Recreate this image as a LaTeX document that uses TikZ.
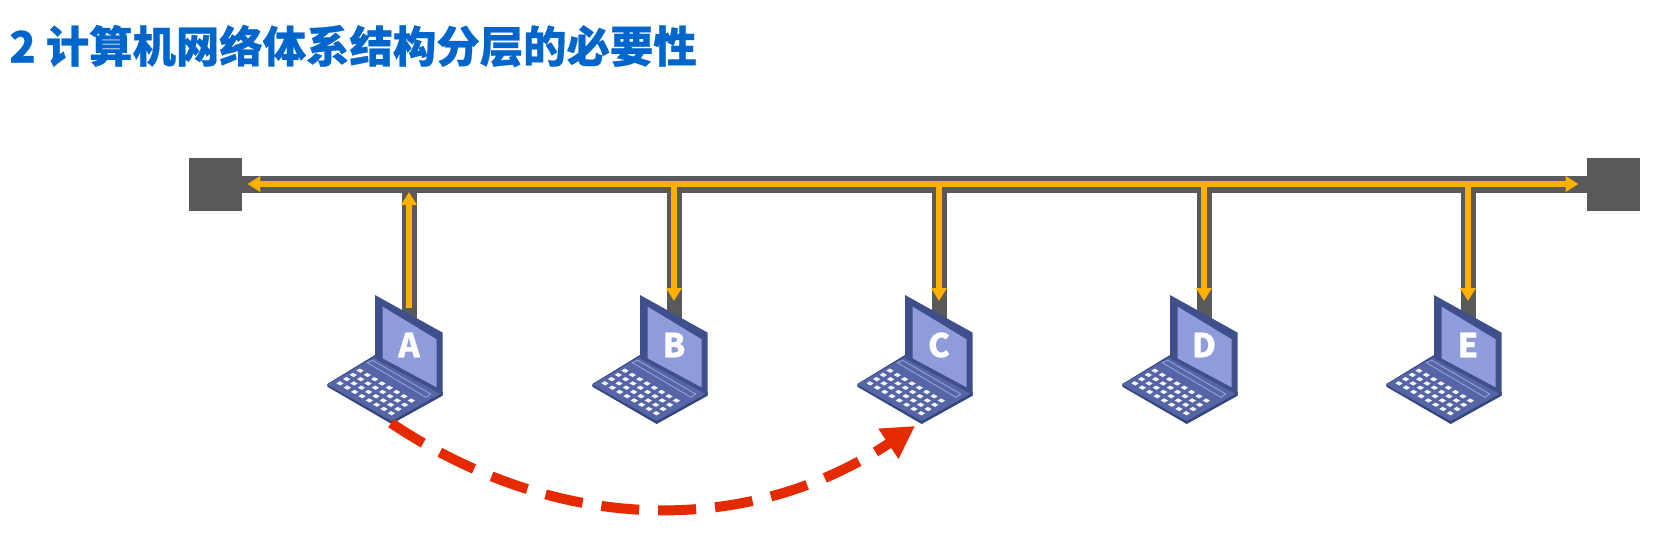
\documentclass[tikz,border=0pt]{standalone}
\usepackage{fontspec}
\setmainfont{Noto Sans CJK SC}[BoldFeatures={FakeBold=0.5}]
\usetikzlibrary{arrows.meta,backgrounds}
\definecolor{busgray}{HTML}{595959}
\definecolor{sigorange}{HTML}{FFB000}
\definecolor{titleblue}{HTML}{0066CC}
\definecolor{arcred}{HTML}{E62A00}
\definecolor{lapdark}{HTML}{34457F}
\definecolor{lapedge}{HTML}{3F4F8C}
\definecolor{lapscreen}{HTML}{8F9CDB}
\definecolor{lapbase}{HTML}{5565A5}
\tikzset{
  terminator/.style={fill=busgray,draw=none,minimum size=26.5pt,inner sep=0pt},
  busline/.style={draw=busgray,line width=8.5pt},
  stemline/.style={draw=busgray,line width=7.5pt},
  signal/.style={draw=sigorange,line width=3pt,-{Triangle[length=6.5pt,width=7.5pt]}},
  hostlabel/.style={text=white,font=\bfseries\fontsize{16.5}{18}\selectfont,inner sep=0pt},
  titletext/.style={text=titleblue,font=\bfseries\fontsize{21.7}{24}\selectfont,anchor=west,inner sep=0pt},
  jump/.style={draw=arcred,line width=5pt,dash pattern=on 19pt off 9.5pt,-{Triangle[length=16pt,width=17pt]}},
  laptop/.pic={
    \begin{scope}[x=0.16667pt,y=-0.16667pt,shift={(-297,-195)}]
      \fill[lapdark] (52,320) -- (245,432) -- (398,347) -- (398,335) -- (195,225) -- (52,312) -- cycle;
      \fill[lapbase] (52,314) -- (245,423) -- (398,338) -- (195,230) -- cycle;
      \fill[lapedge] (195,45) -- (398,158) -- (398,345) -- (380,335) -- (195,235) -- cycle;
      \fill[lapscreen] (218,80) -- (380,178) -- (380,322) -- (218,235) -- cycle;
      \draw[lapscreen,line width=0.5pt] (172,248) -- (188,241) -- (362,342) -- (348,352) -- cycle;
      \foreach \r in {0,...,3}
        \foreach \c in {0,...,7}
          \fill[white!90!lapscreen,shift={({150-20*\r+22*\c},{272+12.7*\r+12.8*\c})}]
            (-11,0) -- (-1,-6.5) -- (11,0) -- (1,6.5) -- cycle;
    \end{scope}
  }
}
\begin{document}
\begin{tikzpicture}[x=0.5pt,y=-0.5pt]
  \useasboundingbox (0,0) rectangle (1659,536);
  \begin{scope}[on background layer]
    \fill[white] (0,0) rectangle (1659,536);
  \end{scope}

  \node[titletext] (title) at (9,46) {2 计算机网络体系结构分层的必要性};

  \node[terminator] (termL) at (215.5,184) {};
  \node[terminator] (termR) at (1613.5,184) {};
  \coordinate (bus) at (915,184);

  \foreach \n/\x in {A/409,B/674,C/939,D/1204,E/1468}{
    \pic at (\x,345) {laptop};
    \node[hostlabel] (\n) at (\x,345) {\n};
  }

  \coordinate (Atail) at (409,308);
  \coordinate (Btip) at (674,301);
  \coordinate (Ctip) at (939,301);
  \coordinate (Dtip) at (1204,301);
  \coordinate (Etip) at (1468,301);
  \coordinate (Afoot) at (391,423);
  \coordinate (Cfoot) at (915,426);

  \begin{scope}[on background layer]
    \draw[busline] (termL.center) -- (termR.center);
    \foreach \n in {A,B,C,D,E}
      \draw[stemline] (bus -| \n) -- (\n);
    \draw[signal,shorten >=2.5pt] (bus -| A) -- (termL.east);
    \draw[signal,shorten >=4pt] (bus -| A) -- (termR.west);
    \draw[signal,shorten >=4pt] (Atail) -- (bus -| A);
    \foreach \n in {B,C,D,E}
      \draw[signal] (bus -| \n) -- (\n tip);
  \end{scope}

  \draw[jump] (Afoot) .. controls (560,536) and (750,536) .. (Cfoot);
\end{tikzpicture}
\end{document}
